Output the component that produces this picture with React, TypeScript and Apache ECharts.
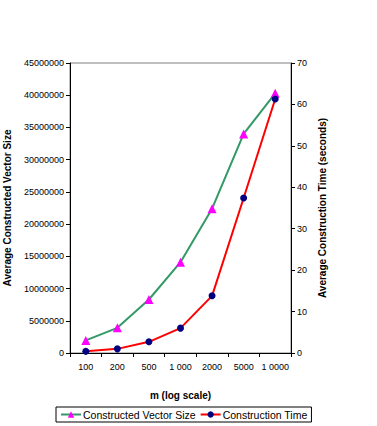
import React, { useEffect, useRef } from "react";
import * as echarts from "echarts";

const categories = ["100", "200", "500", "1 000", "2000", "5000", "1 0000"];
const vectorSize = [1950000, 3900000, 8300000, 14100000, 22400000, 34000000, 40300000];
const constructionTime = [0.4, 1.0, 2.7, 6.0, 13.8, 37.4, 61.3];

export default function App() {
  const ref = useRef<HTMLDivElement>(null);
  useEffect(() => {
    const chart = echarts.init(ref.current!, undefined, { renderer: "svg" });
    const font = "Liberation Sans";
    chart.setOption({
      animation: false,
      textStyle: { fontFamily: font, color: "#000" },
      grid: {
        left: 70,
        right: 86,
        top: 63,
        bottom: 73,
        outerBoundsMode: "none",
        containLabel: false,
        show: true,
        borderColor: "#808080",
        borderWidth: 1,
        backgroundColor: "transparent",
      },
      legend: {
        left: 56,
        top: 407,
        padding: [2, 4, 2, 4],
        itemGap: 4,
        itemWidth: 20,
        itemHeight: 8,
        borderColor: "#000",
        borderWidth: 1,
        borderRadius: 0,
        textStyle: { fontFamily: font, fontSize: 10.5, color: "#000", padding: [0, 0, 0, -3] },
        data: [
          { name: "Constructed Vector Size", itemStyle: { color: "#FF00FF" } },
          { name: "Construction Time", itemStyle: { color: "#000080" } },
        ],
      },
      xAxis: {
        type: "category",
        data: categories,
        boundaryGap: true,
        name: "m (log scale)",
        nameLocation: "middle",
        nameGap: 37,
        nameTextStyle: { fontFamily: font, fontSize: 10, fontWeight: "bold", color: "#000" },
        axisLine: { lineStyle: { color: "#000", width: 1 } },
        axisTick: { show: true, length: 4, alignWithLabel: false, lineStyle: { color: "#000" } },
        axisLabel: { fontFamily: font, fontSize: 9, color: "#000", margin: 9, interval: 0 },
        splitLine: { show: false },
      },
      yAxis: [
        {
          type: "value",
          min: 0,
          max: 45000000,
          interval: 5000000,
          name: "Average Constructed Vector Size",
          nameLocation: "middle",
          nameRotate: 90,
          nameGap: 58,
          nameTextStyle: { fontFamily: font, fontSize: 10, fontWeight: "bold", color: "#000" },
          axisLine: { show: true, lineStyle: { color: "#000" } },
          axisTick: { show: true, length: 4, lineStyle: { color: "#000" } },
          axisLabel: { fontFamily: font, fontSize: 9, color: "#000", margin: 6, formatter: (v: number) => String(v) },
          splitLine: { show: false },
        },
        {
          type: "value",
          min: 0,
          max: 70,
          interval: 10,
          name: "Average Construction Time (seconds)",
          nameLocation: "middle",
          nameRotate: 90,
          nameGap: 21,
          nameTextStyle: { fontFamily: font, fontSize: 10, fontWeight: "bold", color: "#000" },
          axisLine: { show: true, lineStyle: { color: "#000" } },
          axisTick: { show: true, length: 4, lineStyle: { color: "#000" } },
          axisLabel: { fontFamily: font, fontSize: 9, color: "#000", margin: 6 },
          splitLine: { show: false },
        },
      ],
      series: [
        {
          name: "Constructed Vector Size",
          type: "line",
          yAxisIndex: 0,
          data: vectorSize,
          symbol: "triangle",
          symbolSize: 9,
          lineStyle: { color: "#339966", width: 2 },
          itemStyle: { color: "#FF00FF" },
        },
        {
          name: "Construction Time",
          type: "line",
          yAxisIndex: 1,
          data: constructionTime,
          symbol: "circle",
          symbolSize: 7,
          lineStyle: { color: "#FF0000", width: 2 },
          itemStyle: { color: "#000080" },
        },
      ],
    });
    return () => chart.dispose();
  }, []);
  return <div ref={ref} style={{ width: 377, height: 426, position: "absolute", left: 0, top: 0 }} />;
}
